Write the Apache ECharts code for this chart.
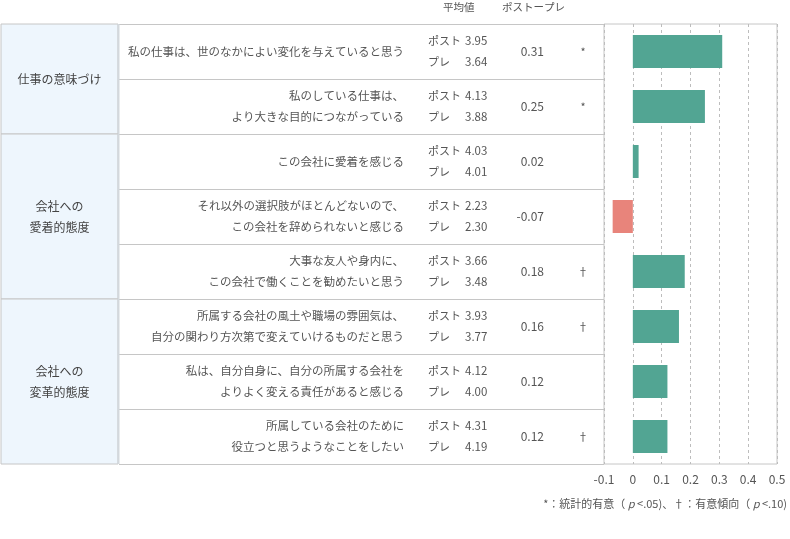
<!DOCTYPE html>
<html>
<head>
<meta charset="utf-8">
<script src="https://cdn.jsdelivr.net/npm/echarts@6/dist/echarts.min.js"></script>
<style>
  html, body { margin: 0; padding: 0; background: #fff; }
  #container { width: 790px; height: 539px; }
</style>
</head>
<body>
<div id="container"></div>
<script>
const groupNames = ['仕事の意味づけ', '会社への\n愛着的態度', '会社への\n変革的態度'];
const groupSizes = [2, 3, 3];

const statements = [
  '私の仕事は、世のなかによい変化を与えていると思う',
  '私のしている仕事は、\nより大きな目的につながっている',
  'この会社に愛着を感じる',
  'それ以外の選択肢がほとんどないので、\nこの会社を辞められないと感じる',
  '大事な友人や身内に、\nこの会社で働くことを勧めたいと思う',
  '所属する会社の風土や職場の雰囲気は、\n自分の関わり方次第で変えていけるものだと思う',
  '私は、自分自身に、自分の所属する会社を\nよりよく変える責任があると感じる',
  '所属している会社のために\n役立つと思うようなことをしたい'
];
const postValues = [3.95, 4.13, 4.03, 2.23, 3.66, 3.93, 4.12, 4.31];
const preValues = [3.64, 3.88, 4.01, 2.30, 3.48, 3.77, 4.00, 4.19];
const diffValues = [0.31, 0.25, 0.02, -0.07, 0.18, 0.16, 0.12, 0.12];
const marks = ['*', '*', '', '', '†', '†', '', '†'];

const rowIds = statements.map((s, i) => String(i));

const container = document.getElementById('container');
const chart = echarts.init(container);

const lineColor = '#c6c6c6';
const textColor = '#555';

// group cells [start row, end row]
let acc = 0;
const groupData = groupSizes.map((n, i) => {
  const item = { name: groupNames[i], value: [acc, acc + n] };
  acc += n;
  return item;
});

function labelAxis(offset, align, formatter, extra) {
  return {
    type: 'category',
    gridIndex: 0,
    data: rowIds,
    inverse: true,
    position: 'left',
    offset: offset,
    axisLine: { show: false },
    axisTick: { show: false },
    splitLine: { show: false },
    axisLabel: Object.assign({
      show: true,
      interval: 0,
      margin: 0,
      align: align,
      color: textColor,
      fontSize: 12,
      lineHeight: 21,
      formatter: formatter
    }, extra || {})
  };
}

const option = {
  textStyle: { fontFamily: 'Noto Sans CJK JP', color: textColor },
  animation: false,
  grid: [
    { left: 604, top: 24, width: 173, height: 440, show: true, borderColor: lineColor, borderWidth: 1, backgroundColor: 'transparent' },
    { left: 119, top: 24, width: 485, height: 440 },
    { left: 1, top: 24, width: 117, height: 440 }
  ],
  xAxis: [
    {
      type: 'value',
      gridIndex: 0,
      min: -0.1,
      max: 0.5,
      interval: 0.1,
      axisLine: { show: false },
      axisTick: { show: false },
      axisLabel: { color: textColor, fontSize: 12, margin: 9 },
      splitLine: { show: true, lineStyle: { color: '#bdbdbd', type: [3, 3] } }
    },
    { type: 'value', gridIndex: 1, min: 0, max: 1, show: false },
    { type: 'value', gridIndex: 2, min: 0, max: 1, show: false }
  ],
  yAxis: [
    {
      type: 'category',
      gridIndex: 0,
      data: rowIds,
      inverse: true,
      show: false
    },
    {
      type: 'category',
      gridIndex: 1,
      data: rowIds,
      inverse: true,
      axisLine: { show: false },
      axisTick: { show: false },
      axisLabel: { show: false },
      splitLine: { show: true, lineStyle: { color: lineColor, width: 1 } }
    },
    { type: 'value', gridIndex: 2, min: 0, max: statements.length, inverse: true, show: false },
    // statement column
    labelAxis(200, 'right', (v) => statements[+v], { fontSize: 11.5 }),
    // post / pre column
    labelAxis(176, 'left', (v) => {
      const i = +v;
      return '{k|ポスト}{v|' + postValues[i].toFixed(2) + '}\n{k|プレ}{v|' + preValues[i].toFixed(2) + '}';
    }, {
      rich: {
        k: { width: 37, fontSize: 11, color: textColor, lineHeight: 21 },
        v: { fontSize: 11.5, color: textColor, lineHeight: 21 }
      }
    }),
    // difference column
    labelAxis(60, 'right', (v) => diffValues[+v].toFixed(2), { fontSize: 12 }),
    // significance column
    labelAxis(21, 'center', (v) => marks[+v], { fontSize: 11 })
  ],
  graphic: [
    { type: 'text', left: 443, top: 2, style: { text: '平均値', fontSize: 10.5, fill: textColor, fontFamily: 'Noto Sans CJK JP' } },
    { type: 'text', left: 502, top: 2, style: { text: 'ポストープレ', fontSize: 10.5, fill: textColor, fontFamily: 'Noto Sans CJK JP' } },
    {
      type: 'text', right: 3, top: 498,
      style: {
        text: '{n|*：統計的有意（ }{i|p}{n| <.05)、†：有意傾向（ }{i|p}{n| <.10)}',
        fontFamily: 'Noto Sans CJK JP',
        rich: {
          n: { fontSize: 11, fill: textColor, fontFamily: 'Noto Sans CJK JP' },
          i: { fontSize: 11, fill: textColor, fontStyle: 'italic', fontFamily: 'Noto Sans CJK JP' }
        }
      }
    }
  ],
  series: [
    {
      type: 'bar',
      xAxisIndex: 0,
      yAxisIndex: 0,
      barWidth: '60%',
      data: diffValues.map((v) => ({
        value: v,
        itemStyle: { color: v < 0 ? '#e8847b' : '#52a593' }
      }))
    },
    {
      type: 'custom',
      xAxisIndex: 2,
      yAxisIndex: 2,
      data: groupData,
      renderItem: function (params, api) {
        const p0 = api.coord([0, api.value(0)]);
        const p1 = api.coord([1, api.value(1)]);
        return {
          type: 'group',
          children: [
            {
              type: 'rect',
              shape: { x: p0[0], y: p0[1], width: p1[0] - p0[0], height: p1[1] - p0[1] },
              style: { fill: '#eef6fd', stroke: lineColor, lineWidth: 1 }
            },
            {
              type: 'line',
              shape: { x1: p1[0] + 0.5, y1: p0[1], x2: p1[0] + 0.5, y2: p1[1] },
              style: { stroke: '#d3d8dd', lineWidth: 2 }
            },
            {
              type: 'text',
              style: {
                text: groupNames[params.dataIndex],
                x: (p0[0] + p1[0]) / 2,
                y: (p0[1] + p1[1]) / 2,
                align: 'center',
                verticalAlign: 'middle',
                fontSize: 12,
                lineHeight: 21,
                fill: '#444',
                fontFamily: 'Noto Sans CJK JP'
              }
            }
          ]
        };
      }
    }
  ]
};

chart.setOption(option);
</script>
</body>
</html>
